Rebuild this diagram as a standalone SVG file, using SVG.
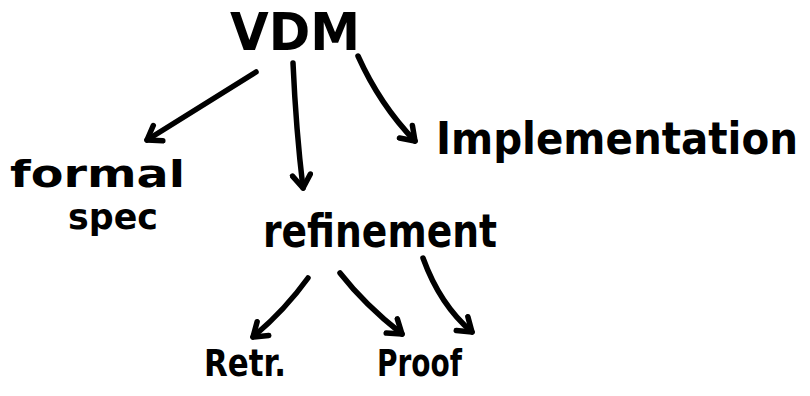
<svg xmlns="http://www.w3.org/2000/svg" width="810" height="396" viewBox="0 0 810 396">
  <style>
    .bg { fill: #ffffff; }
    .label { font-family: "DejaVu Sans", "Liberation Sans", sans-serif; font-weight: bold; fill: #000000; }
    .edge { fill: none; stroke: #000000; stroke-width: 5.5; stroke-linecap: round; stroke-linejoin: round; }
  </style>
  <defs>
    <!-- open V arrowhead, drawn with the same pen as the lines -->
    <marker id="head" viewBox="-16 -12 20 24" refX="0" refY="0" markerWidth="20" markerHeight="24" markerUnits="userSpaceOnUse" orient="auto">
      <path d="M-13,-9 L0,0 L-13,9" fill="none" stroke="#000000" stroke-width="5.5" stroke-linecap="round" stroke-linejoin="round"/>
    </marker>
  </defs>

  <rect class="bg" x="0" y="0" width="810" height="396"/>

  <g id="connectors">
    <path class="edge" d="M256,72 L147,140" marker-end="url(#head)"/>
    <path class="edge" d="M293,63 Q296,130 303,188" marker-end="url(#head)"/>
    <path class="edge" d="M358,56 Q380,105 415,141" marker-end="url(#head)"/>
    <path class="edge" d="M308,278 Q285,310 253,337" marker-end="url(#head)"/>
    <path class="edge" d="M340,273 Q365,305 402,334" marker-end="url(#head)"/>
    <path class="edge" d="M423,258 Q440,305 472,332" marker-end="url(#head)"/>
  </g>

  <g id="vdm">
    <text class="label" x="230" y="50" font-size="52" textLength="130" lengthAdjust="spacingAndGlyphs">VDM</text>
  </g>

  <g id="formal-spec">
    <text class="label" x="10" y="187" font-size="38" textLength="175" lengthAdjust="spacingAndGlyphs">formal</text>
    <text class="label" x="68" y="229" font-size="36" textLength="90" lengthAdjust="spacingAndGlyphs">spec</text>
  </g>

  <g id="implementation">
    <!-- slightly taller than the base font to keep the long word inside the page -->
    <text class="label" transform="translate(436,154) scale(1,1.1)" x="0" y="0" font-size="40" textLength="362" lengthAdjust="spacingAndGlyphs">Implementation</text>
  </g>

  <g id="refinement">
    <text class="label" x="263" y="247" font-size="46" textLength="234" lengthAdjust="spacingAndGlyphs">refinement</text>
  </g>

  <g id="retr">
    <text class="label" x="204" y="376" font-size="38" textLength="82" lengthAdjust="spacingAndGlyphs">Retr.</text>
  </g>

  <g id="proof">
    <text class="label" x="377" y="376" font-size="38" textLength="85" lengthAdjust="spacingAndGlyphs">Proof</text>
  </g>
</svg>
